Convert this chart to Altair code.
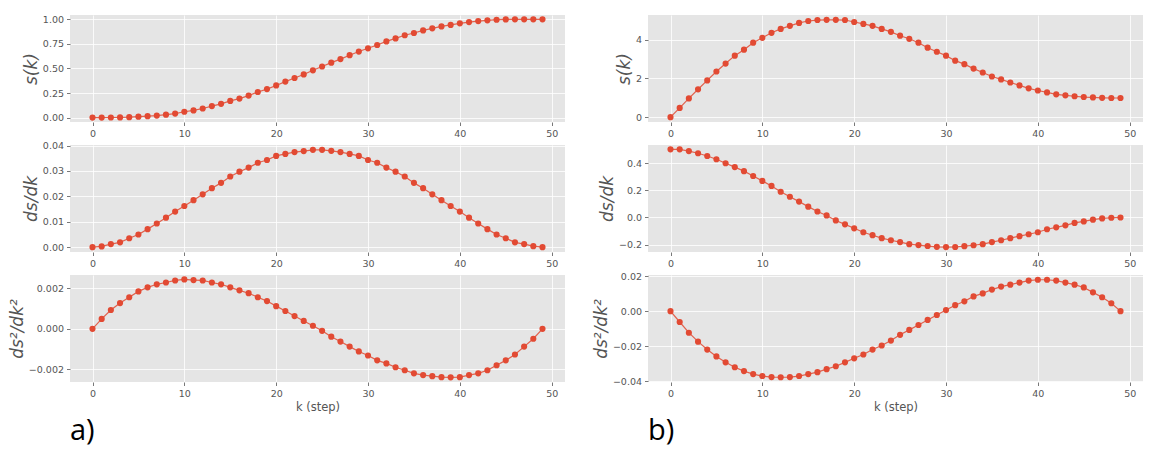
import altair as alt
import pandas as pd

k = list(range(50))

s_a = [0.0, 0.0, 0.001, 0.002, 0.004, 0.009, 0.014, 0.020, 0.030, 0.041,
       0.059, 0.073, 0.092, 0.117, 0.140, 0.170, 0.193, 0.224, 0.260, 0.290,
       0.327, 0.366, 0.403, 0.439, 0.481, 0.520, 0.559, 0.595, 0.635, 0.672,
       0.705, 0.739, 0.775, 0.806, 0.838, 0.861, 0.887, 0.908, 0.928, 0.943,
       0.959, 0.972, 0.982, 0.990, 0.996, 0.999, 1.0, 1.0, 1.0, 1.0]
ds_a = [0.0, 0.0003, 0.0012, 0.0019, 0.0035, 0.0050, 0.0071, 0.0093, 0.0116, 0.0140,
        0.0162, 0.0185, 0.0208, 0.0232, 0.0253, 0.0278, 0.0297, 0.0313, 0.0332, 0.0343,
        0.0359, 0.0367, 0.0374, 0.0378, 0.0383, 0.0383, 0.0379, 0.0374, 0.0367, 0.0359,
        0.0343, 0.0332, 0.0313, 0.0297, 0.0278, 0.0253, 0.0232, 0.0208, 0.0185, 0.0162,
        0.0140, 0.0116, 0.0093, 0.0071, 0.0050, 0.0035, 0.0019, 0.0012, 0.0004, 0.0]
dds_a = [0.0, 0.00049, 0.00093, 0.00127, 0.00156, 0.00185, 0.00205, 0.00220, 0.00229, 0.00239,
         0.00244, 0.00241, 0.00239, 0.00229, 0.00220, 0.00205, 0.00190, 0.00176, 0.00156, 0.00137,
         0.00112, 0.00088, 0.00063, 0.00039, 0.00015, -0.00010, -0.00039, -0.00063, -0.00088, -0.00112,
         -0.00132, -0.00156, -0.00171, -0.00190, -0.00205, -0.00220, -0.00229, -0.00234, -0.00239, -0.00240,
         -0.00239, -0.00229, -0.00220, -0.00205, -0.00180, -0.00156, -0.00127, -0.00088, -0.00049, 0.0]

s_b = [0.0, 0.48, 0.97, 1.44, 1.90, 2.36, 2.77, 3.18, 3.49, 3.85,
       4.10, 4.36, 4.56, 4.72, 4.87, 4.97, 5.02, 5.03, 5.03, 5.02,
       4.92, 4.82, 4.72, 4.56, 4.41, 4.21, 4.05, 3.85, 3.59, 3.38,
       3.18, 2.92, 2.74, 2.51, 2.31, 2.10, 1.95, 1.79, 1.64, 1.49,
       1.38, 1.28, 1.18, 1.13, 1.08, 1.04, 1.02, 1.00, 0.99, 0.99]
ds_b = [0.503, 0.503, 0.490, 0.474, 0.454, 0.430, 0.400, 0.372, 0.342, 0.306,
        0.270, 0.233, 0.190, 0.153, 0.117, 0.080, 0.044, 0.015, -0.022, -0.051,
        -0.080, -0.109, -0.131, -0.153, -0.168, -0.182, -0.197, -0.204, -0.211, -0.217,
        -0.219, -0.218, -0.212, -0.205, -0.197, -0.182, -0.168, -0.153, -0.138, -0.124,
        -0.109, -0.087, -0.073, -0.058, -0.040, -0.029, -0.016, -0.007, -0.002, 0.0]
dds_b = [0.0, -0.0062, -0.0123, -0.0174, -0.0219, -0.0258, -0.0292, -0.0320, -0.0342, -0.0359,
         -0.0370, -0.0376, -0.0377, -0.0376, -0.0370, -0.0359, -0.0348, -0.0331, -0.0314, -0.0292,
         -0.0269, -0.0247, -0.0219, -0.0196, -0.0168, -0.0135, -0.0107, -0.0079, -0.0050, -0.0022,
         0.0006, 0.0034, 0.0056, 0.0084, 0.0101, 0.0123, 0.0140, 0.0151, 0.0163, 0.0174,
         0.0179, 0.0179, 0.0174, 0.0163, 0.0151, 0.0135, 0.0107, 0.0079, 0.0045, 0.0]

x_ticks = [0, 10, 20, 30, 40, 50]

RED = "#E24A33"
GREY = "#555555"


def panel(values, ytitle, domain, ticks, fmt, bottom=False, label=""):
    df = pd.DataFrame({"k": k, "v": values})
    xaxis_kw = dict(values=x_ticks, format="d", labelFlush=False)
    if bottom:
        xaxis_kw["title"] = "k (step)"
    else:
        xaxis_kw["title"] = None
    x = alt.X("k:Q", scale=alt.Scale(domain=[-2.45, 51.45], nice=False, zero=False),
              axis=alt.Axis(**xaxis_kw))
    y = alt.Y("v:Q", scale=alt.Scale(domain=domain, nice=False, zero=False),
              axis=alt.Axis(values=ticks, format=fmt, title=ytitle, labelFlush=False))
    base = alt.Chart(df)
    line = base.mark_line(color=RED, strokeWidth=1.2, opacity=0.85).encode(x=x, y=y)
    pts = base.mark_circle(color=RED, size=38, opacity=1).encode(x=x, y=y)
    ch = alt.layer(line, pts).properties(width=495, height=107)
    if label:
        ch = ch.properties(title=alt.TitleParams(
            label, orient="bottom", anchor="start", frame="group",
            fontSize=29, font="Open Sans", fontWeight="normal", color="black", offset=4))
    return ch


col_a = alt.vconcat(
    panel(s_a, "s(k)", [-0.045, 1.044], [0, 0.25, 0.5, 0.75, 1.0], ".2f"),
    panel(ds_a, "ds/dk", [-0.0019, 0.0402], [0, 0.01, 0.02, 0.03, 0.04], ".2f"),
    panel(dds_a, "ds²/dk²", [-0.00263, 0.00266], [-0.002, 0, 0.002], ".3f", bottom=True, label="a)"),
    spacing=23, bounds="flush")

col_b = alt.vconcat(
    panel(s_b, "s(k)", [-0.25, 5.28], [0, 2, 4], "d"),
    panel(ds_b, "ds/dk", [-0.255, 0.535], [-0.2, 0, 0.2, 0.4], ".1f"),
    panel(dds_b, "ds²/dk²", [-0.0404, 0.0206], [-0.04, -0.02, 0, 0.02], ".2f", bottom=True, label="b)"),
    spacing=23, bounds="flush")

chart = alt.hconcat(col_a, col_b, spacing=27).properties(
    padding={"left": 0, "top": 6, "right": 5, "bottom": 10}
).configure_view(
    fill="#E5E5E5", strokeWidth=0
).configure_axis(
    domain=False,
    grid=True,
    gridColor="#FFFFFF",
    gridWidth=0.8,
    tickColor=GREY,
    tickSize=3.5,
    tickWidth=0.8,
    labelColor=GREY,
    labelFont="DejaVu Sans",
    labelFontSize=9.5,
    labelPadding=3,
    titleColor=GREY,
    titleFont="DejaVu Sans",
    titleFontWeight="normal",
).configure_axisY(
    titleFontSize=17,
    titleFontStyle="italic",
    titlePadding=2,
).configure_axisX(
    titleFontSize=11.5,
    titlePadding=3,
)

chart.save("out.html", embed_options={"renderer": "svg", "actions": False})
